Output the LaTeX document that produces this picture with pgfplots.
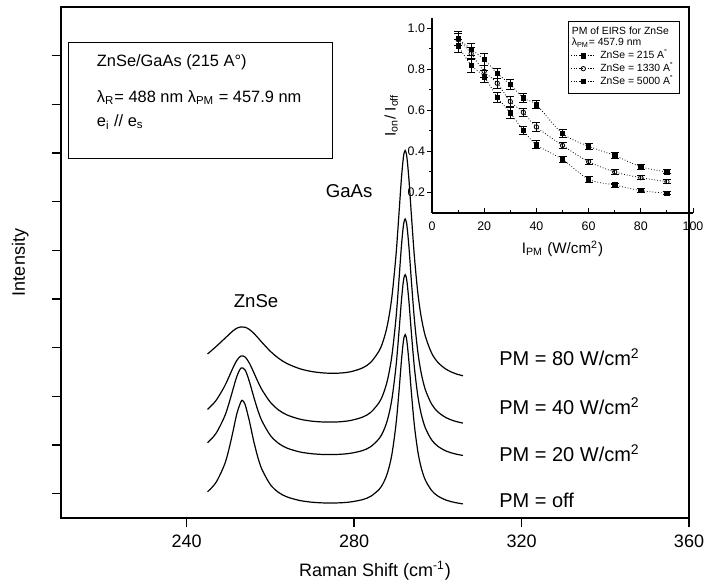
\documentclass[border=0pt]{standalone}
\usepackage{fontspec}
\setmainfont{Liberation Sans}
\usepackage{pgfplots}
\pgfplotsset{compat=1.18}
\begin{document}
\begin{tikzpicture}[font=\fontsize{9}{11}\selectfont]
\begin{axis}[name=main, at={(0,0)}, anchor=south west,
  scale only axis, width=314pt, height=255.5pt,
  xmin=210, xmax=360, ymin=0, ymax=10.5,
  xtick={240,280,320,360}, ytick={0.5,1.5,...,9.5}, yticklabels={},
  xtick pos=bottom, ytick pos=left,
  tick align=outside, major tick length=4.7pt,
  tick style={black, line width=0.7pt},
  axis line style={line width=0.7pt},
  xlabel={Raman Shift (cm\textsuperscript{-1})}, ylabel={Intensity},
  ylabel style={at={(axis description cs:-0.065,0.5)}, anchor=center},
  /pgf/number format/assume math mode=true,
  ticklabel style={font=\fontsize{9}{11}\selectfont},
  clip=false,
]
\addplot[black, line width=0.6pt, smooth, tension=0.5] coordinates {(245,0.539)(247,0.727)(249,1.085)(250,1.374)(251,1.746)(252,2.143)(253,2.394)(253.4,2.41)(254,2.326)(255,1.991)(256,1.591)(257,1.252)(258,0.998)(260,0.687)(262,0.523)(264,0.433)(267,0.360)(270,0.324)(273,0.309)(276,0.310)(279,0.328)(282,0.377)(284,0.447)(286,0.590)(287,0.721)(288,0.932)(289,1.290)(290,1.913)(290.7,2.570)(291.3,3.218)(291.8,3.644)(292.2,3.768)(292.6,3.643)(293.1,3.216)(293.7,2.567)(294.4,1.909)(295.2,1.383)(296,1.045)(297,0.784)(298.5,0.568)(300,0.452)(302,0.367)(304,0.320)(306,0.290)};
\addplot[black, line width=0.6pt, smooth, tension=0.5] coordinates {(245,1.546)(247,1.735)(249,2.071)(250,2.321)(251,2.619)(252,2.909)(253,3.081)(254,3.037)(255,2.802)(256,2.499)(257,2.219)(258,1.994)(260,1.697)(262,1.532)(264,1.436)(267,1.358)(270,1.320)(273,1.304)(276,1.306)(279,1.328)(282,1.385)(284,1.467)(286,1.633)(287,1.783)(288,2.023)(289,2.423)(290,3.102)(290.7,3.796)(291.3,4.456)(291.8,4.878)(292.2,5.000)(292.6,4.878)(293.1,4.454)(293.7,3.792)(294.4,3.098)(295.2,2.526)(296,2.150)(297,1.856)(298.5,1.608)(300,1.474)(302,1.375)(304,1.320)(306,1.285)};
\addplot[black, line width=0.6pt, smooth, tension=0.5] coordinates {(245,2.230)(247,2.411)(249,2.695)(250,2.878)(251,3.071)(252,3.239)(253,3.330)(254,3.307)(255,3.181)(256,2.998)(257,2.807)(258,2.635)(260,2.379)(262,2.217)(264,2.117)(267,2.032)(270,1.989)(273,1.972)(276,1.974)(279,2.001)(282,2.072)(284,2.172)(286,2.375)(287,2.556)(288,2.843)(289,3.314)(290,4.093)(290.7,4.863)(291.3,5.575)(291.8,6.019)(292.2,6.144)(292.6,6.018)(293.1,5.572)(293.7,4.859)(294.4,4.087)(295.2,3.433)(296,2.993)(297,2.642)(298.5,2.344)(300,2.181)(302,2.060)(304,1.992)(306,1.950)};
\addplot[black, line width=0.6pt, smooth, tension=0.5] coordinates {(245,3.37)(247,3.52)(249,3.68)(250,3.76)(251,3.84)(252,3.90)(253,3.926)(254,3.919)(255,3.874)(256,3.799)(257,3.707)(258,3.609)(260,3.426)(262,3.280)(264,3.173)(267,3.068)(270,3.008)(273,2.979)(276,2.975)(279,3.002)(282,3.083)(284,3.200)(286,3.437)(287,3.648)(288,3.981)(289,4.519)(290,5.387)(290.7,6.221)(291.3,6.967)(291.8,7.424)(292.2,7.551)(292.6,7.422)(293.1,6.963)(293.7,6.214)(294.4,5.378)(295.2,4.649)(296,4.149)(297,3.743)(298.5,3.393)(300,3.200)(302,3.055)(304,2.973)(306,2.922)};
\node[font=\fontsize{9.3}{11}\selectfont] at (axis cs:256.6,4.46) {ZnSe};
\node[font=\fontsize{9.3}{11}\selectfont] at (axis cs:278.8,6.72) {GaAs};
\node[anchor=west, font=\fontsize{10}{12}\selectfont] at (axis cs:313.0,3.31) {PM = 80 W/cm\textsuperscript{2}};
\node[anchor=west, font=\fontsize{10}{12}\selectfont] at (axis cs:313.0,2.30) {PM = 40 W/cm\textsuperscript{2}};
\node[anchor=west, font=\fontsize{10}{12}\selectfont] at (axis cs:313.0,1.33) {PM = 20 W/cm\textsuperscript{2}};
\node[anchor=west, font=\fontsize{10}{12}\selectfont] at (axis cs:313.0,0.37) {PM = off};
\draw[line width=0.6pt] (axis cs:211.7,7.39) rectangle (axis cs:274.9,9.77);
\node[anchor=west, font=\fontsize{8.2}{10}\selectfont] at (axis cs:216.9,9.36) {ZnSe/GaAs (215 A°)};
\node[anchor=west, font=\fontsize{8.2}{10}\selectfont] at (axis cs:216.9,8.64) {λ\textsubscript{R}= 488 nm λ\textsubscript{PM} = 457.9 nm};
\node[anchor=west, font=\fontsize{8.2}{10}\selectfont] at (axis cs:216.9,8.14) {e\textsubscript{i} // e\textsubscript{s}};
\end{axis}
\begin{axis}[at={(185.5pt,152.5pt)}, anchor=south west,
  scale only axis, width=130.5pt, height=97.5pt,
  xmin=0, xmax=100, ymin=0.1, ymax=1.05,
  axis x line*=bottom, axis y line*=left,
  axis line style={line width=0.6pt},
  xtick={0,20,...,100}, ytick={0.2,0.4,...,1.0},
  minor x tick num=1, minor y tick num=1,
  tick align=inside, major tick length=2.5pt, minor tick length=1.5pt,
  tick style={black, line width=0.5pt},
  every major y tick/.append style={xshift=-2.5pt},
  every minor y tick/.append style={xshift=-1.5pt},
  /pgf/number format/assume math mode=true,
  ticklabel style={font=\fontsize{6.2}{7}\selectfont},
  yticklabel style={/pgf/number format/.cd, fixed, fixed zerofill, precision=1},
  xticklabel style={yshift=-1pt},
  xlabel={I\textsubscript{PM} (W/cm\textsuperscript{2})},
  ylabel={I\textsubscript{on}/ I\textsubscript{off}},
  label style={font=\fontsize{7.6}{9}\selectfont},
  xlabel style={yshift=2pt},
  ylabel style={yshift=-2pt},
  legend cell align=left,
  legend image code/.code={\draw[mark repeat=2,mark phase=2,#1] plot coordinates {(0cm,0cm)(0.22cm,0cm)(0.44cm,0cm)};},
  legend style={at={(axis description cs:0.95,0.985)}, anchor=north east,
    font=\fontsize{5.2}{6}\selectfont, draw=black, line width=0.5pt,
    inner sep=0.8pt, row sep=-3.6pt},
  error bars/y dir=both, error bars/y explicit,
  error bars/error bar style={line width=0.5pt, solid},
  error bars/error mark options={rotate=90, mark size=2pt, line width=0.5pt},
]
\addlegendimage{empty legend}\addlegendentry{\hspace*{-0.5cm}PM of EIRS for ZnSe}
\addlegendimage{empty legend}\addlegendentry{\hspace*{-0.5cm}λ\textsubscript{PM}= 457.9 nm}
\addplot[black, line width=0.4pt, densely dotted, smooth, mark=square*, mark size=1.1pt, mark options={solid}] coordinates {(10,0.95)+-(0,0.035)(15,0.897)+-(0,0.03)(20,0.848)+-(0,0.03)(25,0.78)+-(0,0.025)(30,0.727)+-(0,0.025)(35,0.66)+-(0,0.02)(40,0.627)+-(0,0.02)(50,0.487)+-(0,0.018)(60,0.425)+-(0,0.015)(70,0.38)+-(0,0.013)(80,0.325)+-(0,0.012)(90,0.30)+-(0,0.01)};
\addlegendentry{ZnSe = 215 A\textsuperscript{°}}
\addplot[black, line width=0.4pt, densely dotted, smooth, mark=o, mark size=1.1pt, mark options={solid}] coordinates {(10,0.945)+-(0,0.03)(15,0.877)+-(0,0.03)(20,0.79)+-(0,0.03)(25,0.732)+-(0,0.025)(30,0.643)+-(0,0.025)(35,0.59)+-(0,0.02)(40,0.519)+-(0,0.02)(50,0.429)+-(0,0.015)(60,0.35)+-(0,0.013)(70,0.30)+-(0,0.012)(80,0.272)+-(0,0.01)(90,0.253)+-(0,0.01)};
\addlegendentry{ZnSe = 1330 A\textsuperscript{°}}
\addplot[black, line width=0.4pt, densely dotted, smooth, mark=square*, mark size=1.1pt, mark options={solid}] coordinates {(10,0.914)+-(0,0.03)(15,0.82)+-(0,0.035)(20,0.764)+-(0,0.03)(25,0.664)+-(0,0.025)(30,0.587)+-(0,0.025)(35,0.503)+-(0,0.02)(40,0.432)+-(0,0.02)(50,0.361)+-(0,0.015)(60,0.264)+-(0,0.013)(70,0.236)+-(0,0.01)(80,0.209)+-(0,0.01)(90,0.196)+-(0,0.008)};
\addlegendentry{ZnSe = 5000 A\textsuperscript{°}}
\end{axis}
\pgfresetboundingbox
\path (-30.5pt,-32.5pt) rectangle (324.5pt,259pt);
\end{tikzpicture}
\end{document}
